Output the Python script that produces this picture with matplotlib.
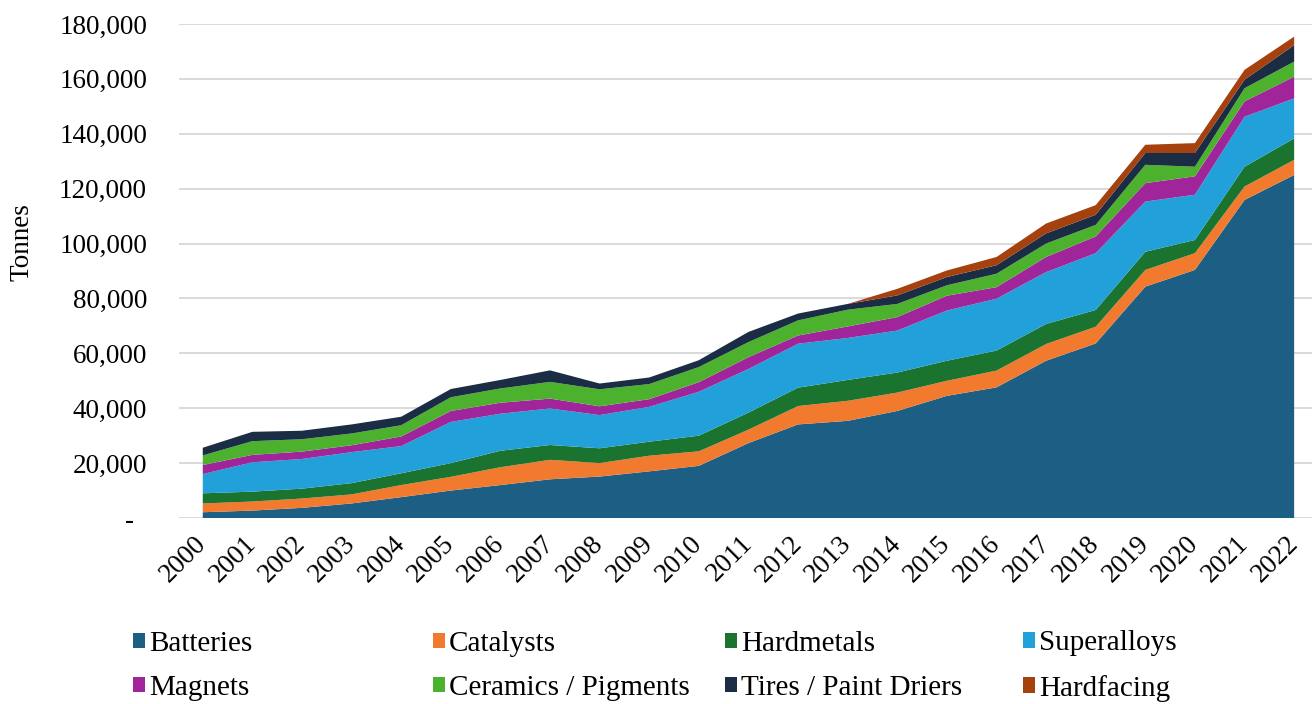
import matplotlib
matplotlib.use("Agg")
import matplotlib.pyplot as plt
import matplotlib.ticker as mticker
from matplotlib.patches import Patch
import numpy as np

plt.rcParams['font.family'] = ['Liberation Serif', 'DejaVu Serif']

years = list(range(2000, 2023))

# tonnes per end use
batteries = [2100, 2700, 3700, 5300, 7600, 10000, 12000, 14100, 15100, 17000, 19000, 27300,
             34100, 35400, 39000, 44500, 47600, 57300, 63600, 84300, 90400, 115900, 125000]
catalysts = [3200, 3300, 3400, 3300, 4400, 5000, 6500, 7100, 4900, 5700, 5300, 4900,
             6700, 7300, 6700, 5500, 6100, 6100, 6100, 6100, 6100, 4900, 5500]
hardmetals = [3700, 3600, 3600, 4100, 4300, 5000, 6000, 5400, 5400, 5100, 5700, 6200,
              6700, 7600, 7300, 7300, 7300, 7300, 6100, 6600, 4800, 7200, 7800]
superalloys = [7000, 10700, 10800, 11300, 9900, 15000, 13500, 13300, 12100, 12700, 16000, 15900,
               16000, 15300, 15300, 18300, 18900, 18900, 20700, 18300, 16500, 18200, 14600]
magnets = [3300, 2700, 2700, 2500, 3500, 4000, 4000, 3600, 3200, 2800, 3500, 4300,
           3000, 4200, 4900, 5400, 4200, 5500, 6100, 6700, 6700, 5600, 7900]
ceramics = [3500, 5000, 4500, 4300, 4100, 5000, 5200, 6100, 6200, 5500, 5500, 5500,
            5500, 6100, 4800, 3800, 4900, 4900, 4200, 6700, 3500, 4800, 5500]
tires = [2800, 3400, 3100, 3300, 3100, 3000, 3100, 4200, 2100, 2400, 2500, 3700,
         2500, 2100, 3100, 3000, 3100, 3700, 3700, 4300, 5000, 3100, 6000]
hardfacing = [0, 0, 0, 0, 0, 0, 0, 0, 0, 0, 0, 0,
              0, 0, 2400, 2400, 3000, 3600, 3500, 3000, 3600, 3600, 3100]

labels = ["Batteries", "Catalysts", "Hardmetals", "Superalloys",
          "Magnets", "Ceramics / Pigments", "Tires / Paint Driers", "Hardfacing"]
colors = ["#1d5e84", "#f27a2e", "#1a7430", "#21a0da",
          "#a0259a", "#4cb22d", "#1b2d44", "#a5400f"]

fig = plt.figure(figsize=(13.12, 7.04), dpi=100)
ax = fig.add_axes([0.1364, 0.2642, 0.8636, 0.7017])

ax.stackplot(years, batteries, catalysts, hardmetals, superalloys, magnets,
             ceramics, tires, hardfacing, colors=colors, labels=labels, linewidth=0)

ax.set_xlim(1999.52, 2022.36)
ax.set_ylim(0, 180000)
ax.set_yticks(np.arange(0, 180001, 20000))
ax.yaxis.set_major_formatter(mticker.FuncFormatter(
    lambda v, p: "-  " if v == 0 else "{:,.0f}".format(v)))
ax.set_xticks(years)
ax.set_xticklabels([str(y) for y in years], rotation=45, ha="right",
                   rotation_mode="anchor", va="center")

ax.tick_params(axis="y", length=0, pad=23, labelsize=19.5)
ax.tick_params(axis="x", length=0, pad=16, labelsize=19.5)
ax.grid(axis="y", color="#d9d9d9", linewidth=1.4)
ax.set_axisbelow(True)
for s in ax.spines.values():
    s.set_visible(False)

fig.text(22 / 1312, 1 - 242 / 704, "Tonnes", rotation=90, ha="center", va="center",
         fontsize=19.5)

# legend: Excel lays the entries out on an even grid, so one legend per column
col_x = [133, 433, 725, 1023]
for j in range(4):
    hs = [Patch(facecolor=colors[j]), Patch(facecolor=colors[j + 4])]
    fig.legend(hs, [labels[j], labels[j + 4]], loc="center left",
               bbox_to_anchor=(col_x[j] / 1312, 1 - 666 / 704), frameon=False,
               fontsize=21, handlelength=0.4, handleheight=0.45, handletextpad=0.15,
               borderpad=0, borderaxespad=0, labelspacing=0.62)

fig.savefig("out.png", dpi=100)
